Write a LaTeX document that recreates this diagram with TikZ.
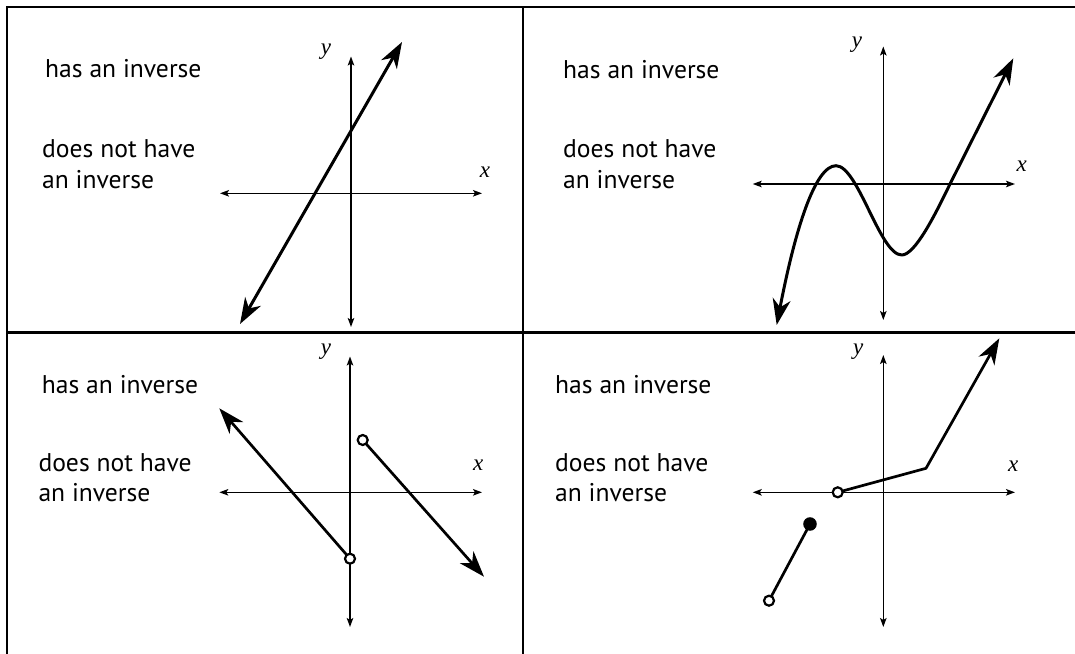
\documentclass[tikz,border=0pt]{standalone}
\usepackage{fontspec}
\setmainfont{PT Sans}
\newfontfamily\axisfont{Liberation Serif}
\usetikzlibrary{arrows.meta}
\tikzset{
  Big/.tip={Stealth[length=26pt,width=18pt,inset=8pt]},
  Small/.tip={Stealth[length=9pt,width=6.5pt,inset=2pt]},
  frame/.style={line width=2.7pt, line cap=rect},
  axis/.style={line width=1.5pt, {Small}-{Small}},
  graph/.style={line width=3pt},
  lbl/.style={anchor=base west, inner sep=0pt, font=\fontsize{25.6}{30}\selectfont},
  axlbl/.style={inner sep=0pt, font=\axisfont\itshape\fontsize{23}{26}\selectfont},
  opendot/.style={circle, draw, line width=2.2pt, fill=white, inner sep=0pt, minimum size=10pt},
  filldot/.style={circle, draw, line width=2pt, fill=black, inner sep=0pt, minimum size=11.5pt}
}
\begin{document}
\begin{tikzpicture}[x=1pt,y=-1pt]
\useasboundingbox (0,0) rectangle (1075,653);
% frame
\coordinate (tl) at (7,7);
\coordinate (tr) at (1075,7);
\coordinate (bl) at (7,653);
\coordinate (mt) at (523,7);
\coordinate (mb) at (523,653);
\coordinate (ml) at (7,332.5);
\coordinate (mr) at (1074,332.5);
\draw[frame] (bl) -- (tl) -- (tr);
\draw[frame] (mt) -- (mb);
\draw[frame] (ml) -- (mr);

% ---------- panel 1 ----------
\node[lbl] (p1a) at (45,77) {has an inverse};
\node[lbl] (p1b) at (42,157) {does not have};
\node[lbl] (p1c) at (42,188) {an inverse};
\coordinate (p1xl) at (220,193.3);
\coordinate (p1xr) at (482,193.3);
\coordinate (p1yt) at (351,56.5);
\coordinate (p1yb) at (351,327);
\draw[axis] (p1xl) -- (p1xr);
\draw[axis] (p1yt) -- (p1yb);
\node[axlbl] (p1x) at (485,172) {x};
\node[axlbl] (p1y) at (326,52) {y};
\coordinate (p1a1) at (240,324);
\coordinate (p1a2) at (402,42);
\draw[graph, {Big}-{Big}] (p1a1) -- (p1a2);

% ---------- panel 2 ----------
\node[lbl] (p2a) at (563,78) {has an inverse};
\node[lbl] (p2b) at (563,157) {does not have};
\node[lbl] (p2c) at (563,188) {an inverse};
\coordinate (p2xl) at (752.7,184);
\coordinate (p2xr) at (1015,184);
\coordinate (p2yt) at (883.3,46.5);
\coordinate (p2yb) at (883.3,320);
\draw[axis] (p2xl) -- (p2xr);
\draw[axis] (p2yt) -- (p2yb);
\node[axlbl] (p2x) at (1021.7,166.7) {x};
\node[axlbl] (p2y) at (857,45) {y};
\coordinate (c0) at (776.7,325);
\coordinate (c1) at (836,165.7);
\coordinate (c2) at (901.7,255);
\coordinate (c3) at (950,184);
\coordinate (c4) at (1013.3,58.3);
\draw[graph, line join=round, {Big}-{Big}] (c0)
  .. controls (795,230) and (815,165.7) .. (c1)
  .. controls (858,165.7) and (880,255) .. (c2)
  .. controls (915,255) and (935,215) .. (c3)
  -- (c4);

% ---------- panel 3 ----------
\node[lbl] (p3a) at (41.7,393.3) {has an inverse};
\node[lbl] (p3b) at (38.3,471.7) {does not have};
\node[lbl] (p3c) at (38.3,501.7) {an inverse};
\coordinate (p3xl) at (219.3,492.3);
\coordinate (p3xr) at (482,492.3);
\coordinate (p3yt) at (350,356.5);
\coordinate (p3yb) at (350,627);
\draw[axis] (p3xl) -- (p3xr);
\draw[axis] (p3yt) -- (p3yb);
\node[axlbl] (p3x) at (478.3,465) {x};
\node[axlbl] (p3y) at (326,351.7) {y};
\coordinate (p3t1) at (219.3,408.3);
\coordinate (p3o1) at (350,558.7);
\coordinate (p3o2) at (362.7,440);
\coordinate (p3t2) at (484,576.7);
\draw[graph, line width=2.7pt, {Big}-] (p3t1) -- (p3o1);
\draw[graph, line width=2.7pt, -{Big}] (p3o2) -- (p3t2);
\node[opendot] (p3d1) at (p3o1) {};
\node[opendot] (p3d2) at (p3o2) {};

% ---------- panel 4 ----------
\node[lbl] (p4a) at (555,393.3) {has an inverse};
\node[lbl] (p4b) at (555,471.7) {does not have};
\node[lbl] (p4c) at (555,501.7) {an inverse};
\coordinate (p4xl) at (752.7,492.3);
\coordinate (p4xr) at (1015,492.3);
\coordinate (p4yt) at (883.3,355);
\coordinate (p4yb) at (883.3,627);
\draw[axis] (p4xl) -- (p4xr);
\draw[axis] (p4yt) -- (p4yb);
\node[axlbl] (p4x) at (1013.3,466) {x};
\node[axlbl] (p4y) at (858.3,351.7) {y};
\coordinate (p4o1) at (837.7,492.3);
\coordinate (p4k) at (926,468.3);
\coordinate (p4t) at (999.3,338.3);
\coordinate (p4f) at (810,524);
\coordinate (p4o2) at (769,600.7);
\draw[graph, line width=2.7pt, line join=round, -{Big}] (p4o1) -- (p4k) -- (p4t);
\draw[graph, line width=2.7pt] (p4o2) -- (p4f);
\node[opendot] (p4d1) at (p4o1) {};
\node[opendot] (p4d2) at (p4o2) {};
\node[filldot] (p4d3) at (p4f) {};
\end{tikzpicture}
\end{document}
